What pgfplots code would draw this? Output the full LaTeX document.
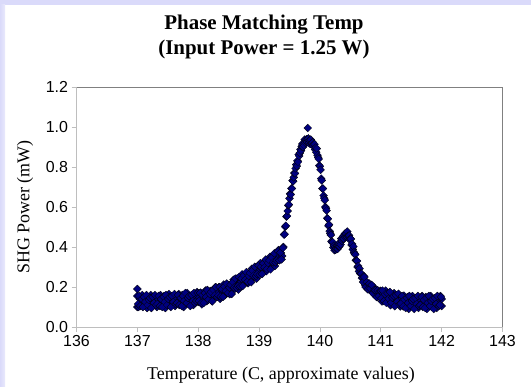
\documentclass[border=0pt]{standalone}
\usepackage{pgfplots}
\pgfplotsset{compat=1.18}
\usepackage{fontspec}
\setmainfont{Liberation Serif}
\newfontfamily\arial{Liberation Sans}
\definecolor{navy}{RGB}{0,0,128}
\definecolor{lav}{RGB}{218,218,250}
\definecolor{axlight}{RGB}{190,190,190}
\definecolor{axdark}{RGB}{128,128,128}
\begin{document}
\begin{tikzpicture}
\useasboundingbox (0,0) rectangle (531bp,387bp);
\fill[white] (0,0) rectangle (531bp,387bp);
\fill[lav] (0,382bp) rectangle (531bp,387bp);
\shade[left color=lav, right color=lav!60!white] (0,0) rectangle (5bp,382bp);
\begin{axis}[
  at={(76.5bp,60bp)}, anchor=south west,
  scale only axis, width=426bp, height=240bp,
  xmin=136, xmax=143, ymin=0, ymax=1.2,
  xtick={136,137,138,139,140,141,142,143},
  ytick={0,0.2,0.4,0.6,0.8,1.0,1.2},
  yticklabel style={/pgf/number format/.cd, fixed, fixed zerofill, precision=1},
  /pgf/number format/assume math mode=true,
  ticklabel style={font=\arial\fontsize{16}{16}\selectfont, text=black},
  tick align=outside, xtick pos=bottom, ytick pos=left,
  major tick length=5bp,
  tick style={axlight, line width=0.6pt},
  axis line style={draw=none},
  clip=false,
]
\draw[axlight, line width=0.6pt] (rel axis cs:0,0) -- (rel axis cs:0,1);
\draw[axlight, line width=0.6pt] (rel axis cs:0,0) -- (rel axis cs:1,0);
\draw[axdark, line width=0.7pt] (rel axis cs:0,1) -- (rel axis cs:1,1) -- (rel axis cs:1,0);
\addplot[only marks, mark=square*, mark size=2.8bp,
  mark options={rotate=45, fill=navy, draw=black, line width=0.3pt}]
coordinates {
(137.00,0.155) (137.00,0.19) (137.00,0.10) (137.02,0.10) (137.04,0.14) (137.06,0.12) (137.08,0.16) (137.10,0.11)
(137.12,0.13) (137.14,0.155) (137.16,0.095) (137.18,0.145) (137.20,0.125) (137.22,0.16) (137.24,0.105)
(137.26,0.135) (137.28,0.115) (137.30,0.15) (137.32,0.10) (137.34,0.14) (137.36,0.12) (137.38,0.16)
(137.40,0.11) (137.42,0.13) (137.44,0.155) (137.46,0.095) (137.48,0.145) (137.50,0.125) (137.52,0.165)
(137.54,0.11) (137.56,0.14) (137.58,0.12) (137.60,0.155) (137.62,0.105) (137.64,0.145) (137.66,0.125)
(137.68,0.165) (137.70,0.115) (137.72,0.135) (137.74,0.16) (137.76,0.10) (137.78,0.155) (137.80,0.135)
(137.82,0.17) (137.84,0.115) (137.86,0.145) (137.88,0.125) (137.90,0.16) (137.92,0.11) (137.94,0.15)
(137.96,0.13) (137.98,0.175) (138.00,0.125)
(137.01,0.115) (137.03,0.155) (137.05,0.105) (137.07,0.14) (137.09,0.10) (137.11,0.15) (137.13,0.125)
(137.15,0.16) (137.17,0.11) (137.19,0.135) (137.21,0.145) (137.23,0.095) (137.25,0.15) (137.27,0.12)
(137.29,0.16) (137.31,0.11) (137.33,0.115) (137.35,0.155) (137.37,0.105) (137.39,0.14) (137.41,0.10)
(137.43,0.15) (137.45,0.125) (137.47,0.16) (137.49,0.11) (137.51,0.14) (137.53,0.15) (137.55,0.10)
(137.57,0.155) (137.59,0.125) (137.61,0.165) (137.63,0.115) (137.65,0.12) (137.67,0.16) (137.69,0.11)
(137.71,0.145) (137.73,0.105) (137.75,0.155) (137.77,0.13) (137.79,0.17) (137.81,0.12) (137.83,0.145)
(137.85,0.155) (137.87,0.105) (137.89,0.16) (137.91,0.13) (137.93,0.17) (137.95,0.12) (137.97,0.13)
(137.99,0.17)
(138.02,0.146) (138.04,0.172) (138.06,0.113) (138.08,0.164) (138.10,0.145) (138.12,0.182) (138.14,0.129)
(138.16,0.161) (138.18,0.143) (138.20,0.18) (138.22,0.132) (138.24,0.174) (138.26,0.156) (138.28,0.198)
(138.30,0.15) (138.32,0.172) (138.34,0.199) (138.36,0.141) (138.38,0.193) (138.40,0.175) (138.42,0.212)
(138.44,0.159) (138.46,0.191) (138.48,0.173) (138.50,0.21) (138.52,0.164) (138.54,0.208) (138.56,0.192)
(138.58,0.236) (138.60,0.19) (138.62,0.214) (138.64,0.243) (138.66,0.187) (138.68,0.241) (138.70,0.225)
(138.72,0.263) (138.74,0.211) (138.76,0.244) (138.78,0.227) (138.80,0.265) (138.82,0.219) (138.84,0.263)
(138.86,0.247) (138.88,0.291) (138.90,0.245) (138.92,0.269) (138.94,0.298) (138.96,0.242) (138.98,0.296)
(139.00,0.28) (139.02,0.319) (139.04,0.268) (139.06,0.302) (139.08,0.286) (139.10,0.325) (139.12,0.279)
(139.14,0.323) (139.16,0.307) (139.18,0.351) (139.20,0.305) (139.22,0.33) (139.24,0.36) (139.26,0.305)
(139.28,0.36) (139.30,0.345) (139.32,0.385) (139.34,0.335) (139.36,0.37) (139.38,0.355) (139.40,0.40)
(138.01,0.13) (138.03,0.17) (138.05,0.12) (138.07,0.16) (138.09,0.12) (138.11,0.17) (138.13,0.15)
(138.15,0.185) (138.17,0.137) (138.19,0.164) (138.21,0.176) (138.23,0.128) (138.25,0.185) (138.27,0.157)
(138.29,0.199) (138.31,0.151) (138.33,0.158) (138.35,0.20) (138.37,0.152) (138.39,0.189) (138.41,0.151)
(138.43,0.203) (138.45,0.18) (138.47,0.217) (138.49,0.169) (138.51,0.197) (138.53,0.211) (138.55,0.165)
(138.57,0.224) (138.59,0.198) (138.61,0.242) (138.63,0.196) (138.65,0.205) (138.67,0.249) (138.69,0.203)
(138.71,0.242) (138.73,0.205) (138.75,0.258) (138.77,0.236) (138.79,0.274) (138.81,0.227) (138.83,0.256)
(138.85,0.27) (138.87,0.224) (138.89,0.283) (138.91,0.257) (138.93,0.301) (138.95,0.255) (138.97,0.264)
(138.99,0.308) (139.01,0.262) (139.03,0.301) (139.05,0.265) (139.07,0.319) (139.09,0.298) (139.11,0.337)
(139.13,0.291) (139.15,0.32) (139.17,0.334) (139.19,0.288) (139.21,0.348) (139.23,0.323) (139.25,0.368)
(139.27,0.323) (139.29,0.333) (139.31,0.378) (139.33,0.333) (139.35,0.373) (139.37,0.338) (139.39,0.395)
(139.41,0.462) (139.42,0.464) (139.43,0.501) (139.44,0.506) (139.45,0.552) (139.46,0.555) (139.47,0.58)
(139.48,0.608) (139.49,0.612) (139.50,0.643) (139.51,0.666) (139.52,0.662) (139.53,0.693) (139.54,0.692)
(139.55,0.732) (139.56,0.729) (139.57,0.748) (139.58,0.770) (139.59,0.768) (139.60,0.793) (139.61,0.812)
(139.62,0.804) (139.63,0.831) (139.64,0.826) (139.65,0.862) (139.66,0.855) (139.67,0.87) (139.68,0.888)
(139.69,0.882) (139.70,0.903) (139.71,0.915) (139.72,0.90) (139.73,0.92) (139.74,0.908) (139.75,0.937)
(139.76,0.922) (139.77,0.929) (139.78,0.939) (139.79,0.925) (139.80,0.938) (139.80,0.995) (139.81,0.943)
(139.82,0.921) (139.83,0.934) (139.84,0.915) (139.85,0.937) (139.86,0.917) (139.87,0.919) (139.88,0.924)
(139.89,0.905) (139.90,0.913) (139.91,0.914) (139.92,0.888) (139.93,0.897) (139.94,0.874) (139.95,0.892)
(139.96,0.859) (139.97,0.848) (139.98,0.84) (139.99,0.808) (140.00,0.803) (140.01,0.786) (140.02,0.742)
(140.03,0.733) (140.04,0.692) (140.05,0.692) (140.06,0.657) (140.07,0.644) (140.08,0.634) (140.09,0.60)
(140.10,0.593) (140.11,0.582) (140.12,0.544) (140.13,0.541) (140.14,0.506) (140.15,0.512) (140.16,0.479)
(140.17,0.468) (140.18,0.46) (140.19,0.428) (140.20,0.423) (140.21,0.424) (140.22,0.398) (140.23,0.407)
(140.24,0.384) (140.25,0.402) (140.26,0.387) (140.27,0.394) (140.28,0.404) (140.29,0.39) (140.30,0.403)
(140.31,0.416) (140.32,0.402) (140.33,0.423) (140.34,0.412) (140.35,0.442) (140.36,0.43) (140.37,0.44)
(140.38,0.453) (140.39,0.442) (140.40,0.458) (140.41,0.467) (140.42,0.449) (140.43,0.466) (140.44,0.451)
(140.45,0.477) (140.46,0.455) (140.47,0.455) (140.48,0.458) (140.49,0.437) (140.50,0.443) (140.51,0.44)
(140.52,0.41) (140.53,0.415) (140.54,0.388) (140.55,0.402) (140.56,0.373) (140.57,0.366) (140.58,0.362)
(140.59,0.334) (140.60,0.333) (140.61,0.33) (140.62,0.30) (140.63,0.305) (140.64,0.278) (140.65,0.292)
(140.66,0.268) (140.67,0.266) (140.68,0.267) (140.69,0.244) (140.70,0.248)
(140.72,0.255) (140.74,0.21) (140.76,0.222) (140.78,0.191) (140.80,0.217) (140.82,0.191) (140.84,0.211)
(140.86,0.175) (140.88,0.201) (140.90,0.16) (140.92,0.177) (140.94,0.149) (140.96,0.178) (140.98,0.155)
(140.71,0.225) (140.73,0.25) (140.75,0.20) (140.77,0.224) (140.79,0.188) (140.81,0.217) (140.83,0.191)
(140.85,0.21) (140.87,0.169) (140.89,0.183) (140.91,0.184) (140.93,0.15) (140.95,0.183) (140.97,0.155)
(140.99,0.181)
(141.00,0.18) (141.02,0.128) (141.04,0.166) (141.06,0.144) (141.08,0.182) (141.10,0.13) (141.12,0.148)
(141.14,0.171) (141.16,0.109) (141.18,0.157) (141.20,0.135) (141.22,0.169) (141.24,0.113) (141.26,0.142)
(141.28,0.121) (141.30,0.155) (141.32,0.103) (141.34,0.141) (141.36,0.119) (141.38,0.157) (141.40,0.105)
(141.42,0.125) (141.44,0.15) (141.46,0.09) (141.48,0.14) (141.50,0.12) (141.52,0.155) (141.54,0.10)
(141.56,0.13) (141.58,0.11) (141.60,0.145) (141.62,0.095) (141.64,0.135) (141.66,0.115) (141.68,0.155)
(141.70,0.105) (141.72,0.125) (141.74,0.15) (141.76,0.09) (141.78,0.14) (141.80,0.12) (141.82,0.155)
(141.84,0.10) (141.86,0.13) (141.88,0.11) (141.90,0.145) (141.92,0.095) (141.94,0.135) (141.96,0.115)
(141.98,0.155) (142.00,0.105) (142.00,0.14)
(141.01,0.144) (141.03,0.182) (141.05,0.13) (141.07,0.163) (141.09,0.121) (141.11,0.169) (141.13,0.142)
(141.15,0.175) (141.17,0.123) (141.19,0.146) (141.21,0.155) (141.23,0.104) (141.25,0.158) (141.27,0.127)
(141.29,0.166) (141.31,0.114) (141.33,0.117) (141.35,0.155) (141.37,0.103) (141.39,0.136) (141.41,0.095)
(141.43,0.145) (141.45,0.12) (141.47,0.155) (141.49,0.105) (141.51,0.13) (141.53,0.14) (141.55,0.09)
(141.57,0.145) (141.59,0.115) (141.61,0.155) (141.63,0.105) (141.65,0.11) (141.67,0.15) (141.69,0.10)
(141.71,0.135) (141.73,0.095) (141.75,0.145) (141.77,0.12) (141.79,0.155) (141.81,0.105) (141.83,0.13)
(141.85,0.14) (141.87,0.09) (141.89,0.145) (141.91,0.115) (141.93,0.155) (141.95,0.105) (141.97,0.11)
(141.99,0.15)
};
\end{axis}
\node[font=\bfseries\fontsize{21}{25}\selectfont, align=center] at (264bp,350bp)
  {Phase Matching Temp\\(Input Power = 1.25 W)};
\node[font=\fontsize{18}{18}\selectfont] at (281bp,12bp) {Temperature (C, approximate values)};
\node[font=\fontsize{18}{18}\selectfont, rotate=90] at (25bp,180bp) {SHG Power (mW)};
\end{tikzpicture}
\end{document}
